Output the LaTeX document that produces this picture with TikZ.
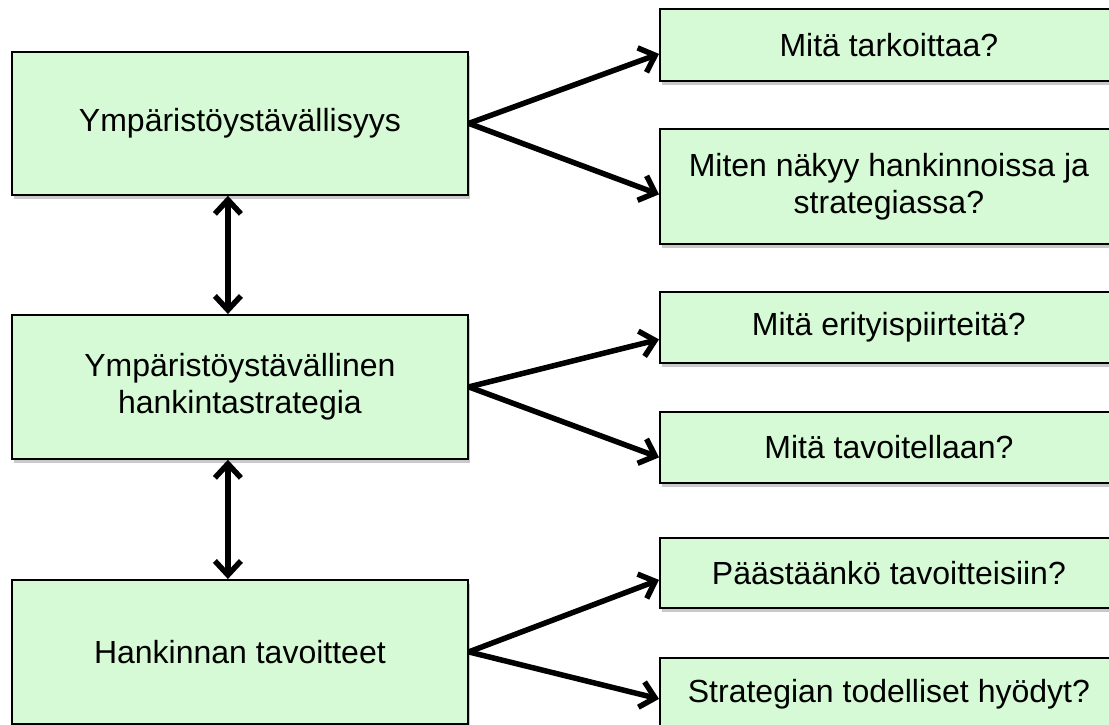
\documentclass[tikz,border=0pt]{standalone}
\usepackage{fontspec}
\setmainfont{Liberation Sans}
\usetikzlibrary{arrows.meta,shadows}
\definecolor{boxgreen}{RGB}{213,250,213}
\tikzset{
  box/.style={draw=black, line width=1.8pt, fill=boxgreen, anchor=north west,
    inner sep=0pt, align=center, font=\fontsize{32}{37}\selectfont,
    drop shadow={shadow xshift=2pt, shadow yshift=-4pt, opacity=0.3, fill=black!70}},
  conn/.style={line width=5.5pt, -{Straight Barb[length=14pt,width=26pt]}},
  biconn/.style={line width=5.5pt, {Straight Barb[length=14pt,width=26pt]}-{Straight Barb[length=14pt,width=26pt]}}
}
\begin{document}
\begin{tikzpicture}[x=1pt,y=-1pt]
\useasboundingbox (0,0) rectangle (1109,725);
\clip (0,0) rectangle (1109,725);
% left column
\node[box, minimum width=456pt, minimum height=143pt] (B1) at (11,51) {Ympäristöystävällisyys};
\node[box, minimum width=456pt, minimum height=144pt] (B2) at (11,314) {Ympäristöystävällinen\\hankintastrategia};
\node[box, minimum width=456pt, minimum height=144pt] (B3) at (11,579) {Hankinnan tavoitteet};
% right column
\node[box, minimum width=458pt, minimum height=72pt] (R1) at (659,8) {Mitä tarkoittaa?};
\node[box, minimum width=458pt, minimum height=115pt] (R2) at (659,128) {Miten näkyy hankinnoissa ja\\strategiassa?};
\node[box, minimum width=458pt, minimum height=71pt] (R3) at (659,291) {Mitä erityispiirteitä?};
\node[box, minimum width=458pt, minimum height=71pt] (R4) at (659,411) {Mitä tavoitellaan?};
\node[box, minimum width=458pt, minimum height=70pt] (R5) at (659,537) {Päästäänkö tavoitteisiin?};
\node[box, minimum width=458pt, minimum height=72pt] (R6) at (659,657) {Strategian todelliset hyödyt?};
% vertical connectors
\draw[biconn] ([xshift=-12pt]B1.south) -- ([xshift=-12pt]B2.north);
\draw[biconn] ([xshift=-12pt]B2.south) -- ([xshift=-12pt]B3.north);
% fan-out connectors
\draw[conn] (B1.east) -- ([yshift=-9pt]R1.west);
\draw[conn] (B1.east) -- ([yshift=-8pt]R2.west);
\draw[conn] (B2.east) -- ([yshift=-12pt]R3.west);
\draw[conn] (B2.east) -- ([yshift=-10pt]R4.west);
\draw[conn] (B3.east) -- ([yshift=-7pt]R5.west);
\draw[conn] (B3.east) -- ([yshift=-5pt]R6.west);
\end{tikzpicture}
\end{document}
